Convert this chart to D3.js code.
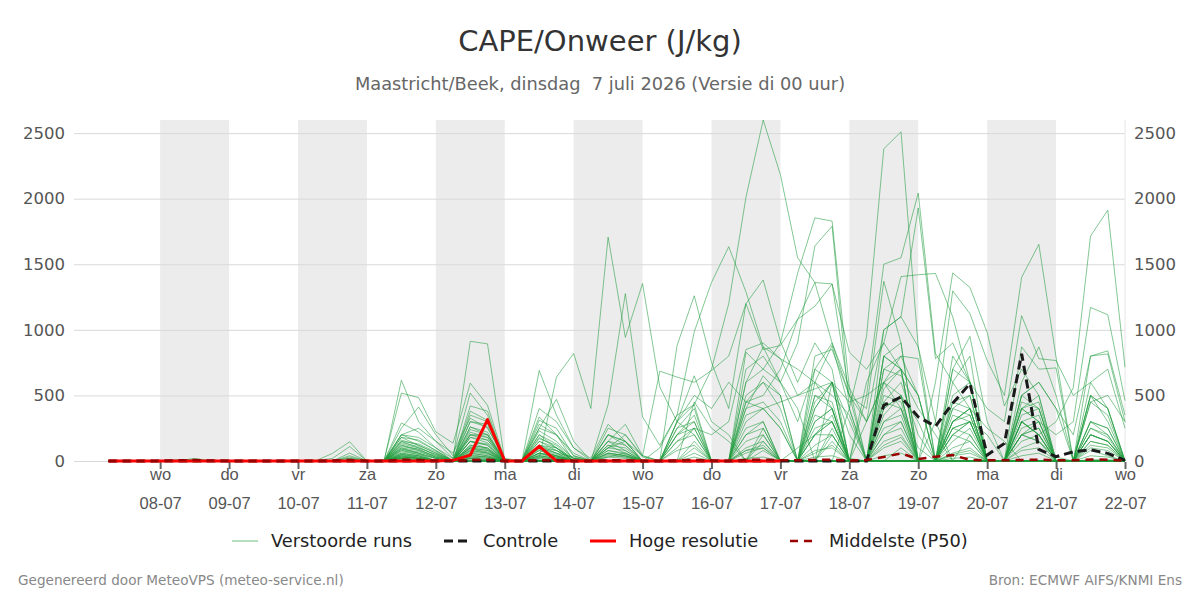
<!DOCTYPE html>
<html>
<head>
<meta charset="utf-8">
<script src="https://cdn.jsdelivr.net/npm/d3@7"></script>
<style>
  body { margin: 0; background: #fff; font-family: "DejaVu Sans", sans-serif; }
</style>
</head>
<body>
<div id="container"></div>
<script>
/* CONSTANTS AND GLOBALS */
const width = 1200, height = 600;
const plotLeft = 74, plotRight = 1125, plotTop = 120, plotBottom = 461;

/* DATA (CAPE in J/kg, 6-hourly from 07-07 06 UTC) */
const firstTime = "2026-07-07T06:00:00Z";
const stepHours = 6;
const domainStart = "2026-07-06T18:00:00Z", domainEnd = "2026-07-22T00:00:00Z";

const tickDates = ["2026-07-08","2026-07-09","2026-07-10","2026-07-11","2026-07-12","2026-07-13","2026-07-14","2026-07-15","2026-07-16","2026-07-17","2026-07-18","2026-07-19","2026-07-20","2026-07-21","2026-07-22"];
const dayNames = ["wo","do","vr","za","zo","ma","di","wo","do","vr","za","zo","ma","di","wo"];
const dateLabels = ["08-07","09-07","10-07","11-07","12-07","13-07","14-07","15-07","16-07","17-07","18-07","19-07","20-07","21-07","22-07"];
const shadedDays = ["2026-07-08","2026-07-10","2026-07-12","2026-07-14","2026-07-16","2026-07-18","2026-07-20"];
const yTicks = [0, 500, 1000, 1500, 2000, 2500];

const control = [0,0,0,0,0,0,0,0,0,0, 0,0,0,0,0,0,0,0,0,0, 0,0,0,0,0,0,0,0,0,0, 0,0,0,0,0,0,0,0,0,0, 0,0,0,0,0,425,488,336,265,440, 590,45,134,817,88,33,70,85,58,5];
const hres = [0,0,0,0,0,0,0,0,0,0, 0,0,0,0,0,0,0,0,0,0, 5,45,316,0,0,114,0,0,0,0, 0,0,0,0,0,0,0,0,0,0];
const p50 = [0,0,0,0,5,8,3,0,0,0, 0,0,0,3,8,0,0,10,8,3, 0,8,10,0,0,8,5,0,0,5, 5,0,0,5,8,3,0,8,10,5, 5,8,10,3,7,30,58,15,33,45, 8,5,5,8,10,5,5,12,10,3];

const runs = [
 [0,0,0,0,0,0,0,0,0,0,0,0,0, 0,20,0,0, 180,120,60,0, 260,200,0,0, 150,80,20,0, 120,60,0,0, 300,430,700,1200, 2010,2600,2183,1550, 1361,900,560,300, 600,400,100,0, 0,0,0,0, 200,150,30,0, 0,0,0],
 [0,0,0,0,0,0,0,0,0,0,0,0,0, 0,0,0,0, 100,60,20,0, 150,90,0,0, 20,640,820,400, 1707,943,1353,564, 300,200,0,0, 0,0,0,100, 200,300,20,0, 0,0,0,0, 60,100,0,0, 0,0,0,0, 80,40,0],
 [0,0,0,0,0,0,0,0,0,0,0,0,0, 0,0,0,0, 50,30,0,0, 100,60,0,0, 120,60,30,0, 430,1277,336,120, 350,430,0,0, 450,600,400,0, 0,0,0,0, 350,500,300,0, 0,0,0,0, 200,300,0,0, 250,180,0],
 [0,0,0,0,0,0,0,0,0,0,0,0,0, 0,40,0,0, 290,220,100,20, 913,893,0,0, 200,100,20,0, 150,280,40,0, 0,0,0,0, 300,400,250,0, 0,600,300,0, 700,800,500,0, 0,0,0,0, 500,400,0,0, 0,0,0],
 [0,0,0,0,0,20,0,0,0,0,0,0,0, 58,147,0,0, 615,300,150,60, 326,250,20,0, 400,300,100,20, 280,150,0,0, 0,0,0,0, 600,870,600,300, 700,900,500,0, 1000,1100,870,0, 0,0,0,0, 0,0,0,0, 500,400,0],
 [0,0,0,0,10,12,0,0,0,0,0,0,0, 20,110,0,10, 518,483,222,136, 594,425,10,0, 336,200,60,0, 120,100,0,0, 0,0,0,0, 400,450,300,0, 600,880,400,0, 800,900,0,0, 700,600,0,0, 0,0,0,0, 300,250,0],
 [0,0,0,0,0,0,0,0,0,0,0,0,0, 0,60,0,0, 250,412,200,40, 518,349,0,0, 690,350,100,0, 200,150,40,0, 880,1260,753,400, 1200,1380,913,600, 900,700,0,0, 0,0,0,0, 300,400,0,0, 0,0,0,0, 200,150,0],
 [0,0,0,0,0,0,0,0,0,0,0,0,0, 0,0,0,0, 150,100,50,0, 220,180,0,0, 250,470,150,0, 100,200,40,685, 640,600,690,800, 1200,850,880,1080, 1180,1350,830,700, 900,700,0,0, 0,0,0,0, 400,450,0,0, 0,0,0],
 [0,0,0,0,0,0,0,0,0,0,0,0,0, 0,0,0,0, 120,80,40,0, 180,160,0,0, 100,60,0,0, 60,40,0,100, 350,986,1361,1634, 1290,870,780,500, 600,400,0,0, 0,0,0,0, 200,150,0,0, 0,0,0,0, 0,0,0],
 [0,0,0,0,0,0,0,0,0,0,0,0,0, 0,0,0,0, 90,60,20,0, 150,120,0,0, 80,40,0,0, 40,30,0,0, 0,0,0,0, 600,700,900,1432, 1854,1829,560,0, 0,0,0,0, 250,300,0,0, 0,0,0,0, 0,0,0],
 [0,0,0,0,0,0,0,0,0,0,0,0,0, 0,0,0,0, 80,50,0,0, 120,100,0,0, 60,30,0,0, 30,20,0,0, 0,0,0,0, 830,700,600,900, 1640,1790,400,0, 800,700,0,0, 0,0,0,0, 300,200,0,0, 0,0,0],
 [0,0,0,0,0,0,0,0,0,0,0,0,0, 0,0,0,0, 60,40,0,0, 100,80,0,0, 40,20,0,0, 0,0,0,0, 300,500,400,600, 450,500,700,1080, 1361,1350,500,400, 1370,900,0,0, 0,0,0,0, 0,0,0,0, 300,200,0],
 [0,0,0,0,0,0,0,0,0,0,0,0,0, 0,0,0,0, 40,20,0,0, 80,60,0,0, 30,10,0,0, 0,0,0,0, 0,0,0,0, 200,300,0,0, 0,0,400,950, 2380,2510,870,300, 0,0,0,0, 0,0,0,0, 0,0,0],
 [0,0,0,0,0,0,0,0,0,0,0,0,0, 0,0,0,0, 30,20,0,0, 60,40,0,0, 0,0,0,0, 0,0,0,0, 0,0,0,0, 0,250,0,0, 400,600,0,500, 1500,1550,2043,820, 600,400,0,0, 300,200,0,0, 0,0,0],
 [0,0,0,0,0,0,0,0,0,0,0,0,0, 0,0,0,0, 20,10,0,0, 40,30,0,0, 0,0,0,0, 0,0,0,0, 0,0,0,0, 100,150,0,0, 300,400,0,300, 1000,1100,1930,780, 900,600,0,0, 0,0,0,0, 200,150,0],
 [0,0,0,0,0,0,0,0,0,0,0,0,0, 0,0,0,0, 10,0,0,0, 30,20,0,0, 0,0,0,0, 0,0,0,0, 0,0,0,0, 0,200,0,0, 400,600,0,600, 900,1406,1420,1430, 1100,600,0,0, 400,300,0,0, 0,0,0],
 [0,0,0,0,0,0,0,0,0,0,0,0,0, 0,0,0,0, 0,0,0,0, 20,10,0,0, 0,0,0,0, 0,0,0,0, 0,0,0,0, 0,150,0,0, 200,350,0,0, 600,700,0,600, 1434,1323,980,420, 700,500,0,0, 0,0,0],
 [0,0,0,0,0,0,0,0,0,0,0,0,0, 0,0,0,0, 0,0,0,0, 0,0,0,0, 0,0,0,0, 0,0,0,0, 0,0,0,0, 60,100,0,0, 0,250,0,0, 400,500,0,300, 1297,1123,766,500, 1400,1652,790,0, 500,300,0],
 [0,0,0,0,0,0,0,0,0,0,0,0,0, 0,0,0,0, 0,0,0,0, 0,0,0,0, 0,0,0,0, 0,0,0,0, 0,30,0,0, 0,80,0,0, 0,200,0,0, 300,400,0,0, 500,600,400,300, 1108,780,766,500, 600,400,0],
 [0,0,0,0,0,0,0,0,0,0,0,0,0, 0,0,0,0, 0,0,0,0, 0,0,0,0, 0,0,0,0, 0,0,0,0, 0,0,0,0, 0,0,0,0, 0,150,0,0, 200,300,0,0, 300,400,0,0, 300,200,300,560, 1715,1912,716],
 [0,0,0,0,0,0,0,0,0,0,0,0,0, 0,0,0,0, 0,0,0,0, 0,0,0,0, 0,0,0,0, 0,0,0,0, 0,0,0,0, 0,0,0,0, 60,120,0,0, 150,200,0,0, 200,300,0,0, 400,300,200,300, 1171,1115,460],
 [0,0,0,0,0,0,0,0,0,0,0,0,0, 0,0,0,0, 0,0,0,0, 0,0,0,0, 0,0,0,0, 0,0,0,0, 0,0,0,0, 0,0,0,0, 0,0,0,0, 0,100,0,0, 0,200,0,0, 500,600,400,200, 800,817,300],
 [0,0,0,0,0,0,0,0,0,0,0,0,0, 0,30,0,0, 200,150,80,0, 420,380,0,0, 310,250,40,0, 200,120,0,0, 0,450,250,150, 0,0,0,0, 450,600,200,0, 0,0,0,0, 300,400,0,0, 0,0,0,0, 200,150,0],
 [0,0,0,0,0,0,0,0,0,0,0,0,0, 0,0,0,0, 160,120,60,0, 380,310,0,0, 280,200,0,0, 150,80,0,0, 0,0,0,0, 400,650,500,0, 0,0,0,0, 400,500,0,0, 0,0,0,0, 200,250,0,0, 0,0,0],
 [0,0,0,0,0,0,0,0,0,0,0,0,0, 0,0,0,0, 130,100,50,0, 300,280,10,0, 230,150,20,0, 0,0,0,0, 200,350,0,0, 0,0,0,0, 800,850,500,300, 600,500,0,0, 450,500,0,0, 0,0,0,0, 300,250,0],
 [0,0,0,0,0,0,0,0,0,0,0,0,0, 0,20,0,0, 110,90,30,0, 260,220,0,0, 170,120,0,0, 60,40,0,0, 0,0,0,0, 350,400,450,500, 550,600,0,0, 700,650,400,200, 0,0,0,0, 450,400,0,0, 0,0,0],
 [0,0,0,0,0,0,0,0,0,0,0,0,0, 0,0,0,0, 70,50,20,0, 200,160,0,0, 150,100,0,0, 0,0,0,0, 0,0,0,0, 250,300,0,0, 0,0,0,0, 550,700,500,0, 600,800,0,0, 0,0,0,0, 450,350,0],
 [0,0,0,0,0,0,0,0,0,0,0,0,0, 0,0,0,0, 50,40,0,0, 150,120,0,0, 100,60,0,0, 0,0,0,0, 150,200,0,0, 0,0,0,0, 300,400,0,0, 450,600,200,0, 0,0,0,0, 300,350,0,0, 0,0,0],
 [0,0,0,0,0,0,0,0,0,0,0,0,0, 0,0,0,0, 40,30,0,0, 120,100,0,0, 80,40,0,0, 100,150,0,0, 0,0,0,0, 150,200,0,0, 0,0,0,0, 0,0,0,0, 400,500,0,0, 350,400,0,0, 200,150,0],
 [0,0,0,0,0,0,0,0,0,0,0,0,0, 0,0,0,0, 30,20,0,0, 100,80,0,0, 60,30,0,0, 0,0,0,0, 100,250,0,0, 0,0,0,0, 200,300,0,0, 300,350,0,0, 0,0,0,0, 250,300,0,0, 150,120,0],
 [0,0,0,0,0,0,0,0,0,0,0,0,0, 0,0,0,0, 20,10,0,0, 80,60,0,0, 40,20,0,0, 0,0,0,0, 0,0,0,0, 80,120,0,0, 0,0,0,0, 250,300,0,0, 200,300,0,0, 0,0,0,0, 120,100,0],
 [0,0,0,0,0,0,0,0,0,0,0,0,0, 0,0,0,0, 20,0,0,0, 60,40,0,0, 30,10,0,0, 0,0,0,0, 0,0,0,0, 0,0,0,0, 120,200,0,0, 0,0,0,0, 150,250,0,0, 150,200,0,0, 0,0,0],
 [0,0,0,0,0,0,0,0,0,0,0,0,0, 0,0,0,0, 90,70,30,0, 240,200,0,0, 200,130,20,0, 80,50,0,0, 250,300,0,0, 700,800,600,400, 0,0,0,0, 800,700,500,0, 700,950,300,0, 870,700,710,0, 500,400,0],
 [0,0,0,0,0,0,0,0,0,0,0,0,0, 0,0,0,0, 140,110,40,0, 200,180,0,0, 120,80,0,0, 50,30,0,0, 150,250,200,300, 850,900,780,700, 600,500,350,0, 0,0,0,0, 400,350,0,0, 0,0,0,0, 250,200,0],
 [0,0,0,0,0,0,0,0,0,0,0,0,0, 0,0,0,0, 60,40,0,0, 180,140,0,0, 90,50,0,0, 150,120,0,0, 300,650,300,200, 0,0,0,0, 500,400,0,0, 0,0,0,0, 300,350,0,0, 600,870,500,0, 0,0,0],
 [0,0,0,0,0,0,0,0,0,0,0,0,0, 0,0,0,0, 30,20,0,0, 90,70,0,0, 50,30,0,0, 200,150,0,0, 250,400,0,0, 450,400,250,0, 0,0,0,0, 500,450,0,0, 800,600,0,0, 0,0,0,0, 600,700,250],
 [0,0,0,0,0,0,0,0,0,0,0,0,0, 0,0,0,0, 200,180,100,0, 150,130,0,0, 60,40,0,0, 0,0,0,0, 0,150,0,0, 0,0,0,0, 700,600,450,500, 600,800,780,0, 0,0,0,0, 300,200,0,0, 0,0,0],
 [0,0,0,0,0,0,0,0,0,0,0,0,0, 0,0,0,0, 100,80,20,0, 110,90,0,0, 40,20,0,0, 30,60,0,0, 200,300,0,0, 0,0,0,0, 250,300,0,0, 0,0,0,0, 250,300,0,0, 400,500,0,0, 0,0,0],
 [0,0,0,0,0,0,0,0,0,0,0,0,0, 0,0,0,0, 150,130,70,0, 70,50,0,0, 20,10,0,0, 0,0,0,0, 0,100,0,0, 200,250,0,0, 0,0,0,0, 200,250,0,0, 0,0,0,0, 200,250,0,0, 150,120,0],
 [0,0,0,0,0,0,0,0,0,0,0,0,0, 0,0,0,0, 80,60,0,0, 50,30,0,0, 10,0,0,0, 0,0,0,0, 0,60,0,0, 0,0,0,0, 200,200,0,0, 0,0,0,0, 100,150,0,0, 0,0,0,0, 100,80,0],
 [0,0,0,0,0,0,0,0,0,0,0,0,0, 0,0,0,0, 40,20,0,0, 30,20,0,0, 0,0,0,0, 0,0,0,0, 0,0,0,0, 80,100,0,0, 0,0,0,0, 100,150,0,0, 0,0,0,0, 100,150,0,0, 0,0,0],
 [0,0,0,0,0,0,0,0,0,0,0,0,0, 0,0,0,0, 20,10,0,0, 20,10,0,0, 0,0,0,0, 0,0,0,0, 0,0,0,0, 0,0,0,0, 80,100,0,0, 0,0,0,0, 50,80,0,0, 0,0,0,0, 40,30,0],
 [0,0,0,0,0,0,0,0,0,0,0,0,0, 0,0,0,0, 10,0,0,0, 10,0,0,0, 0,0,0,0, 0,0,0,0, 0,0,0,0, 20,30,0,0, 0,0,0,0, 40,60,0,0, 0,0,0,0, 40,60,0,0, 0,0,0],
 [0,0,0,0,0,0,0,0,0,0,0,0,0, 0,0,0,0, 0,0,0,0, 0,0,0,0, 0,0,0,0, 0,0,0,0, 0,0,0,0, 0,0,0,0, 30,40,0,0, 0,0,0,0, 20,30,0,0, 0,0,0,0, 10,10,0],
 [0,0,0,0,0,0,0,0,0,0,0,0,0, 0,0,0,0, 120,90,30,0, 350,300,0,0, 250,200,40,0, 250,200,30,0, 200,250,0,0, 0,0,0,0, 500,450,0,0, 0,0,0,0, 350,300,200,0, 500,600,400,0, 800,840,350],
 [0,0,0,0,0,0,0,0,0,0,0,0,0, 0,0,0,0, 200,250,150,20, 300,260,0,0, 180,100,0,0, 80,60,0,0, 0,0,0,0, 500,600,500,0, 0,0,0,0, 450,400,0,0, 450,400,250,150, 0,0,0,0, 450,500,300],
 [0,0,0,0,0,0,0,0,0,0,0,0,0, 0,0,0,0, 180,160,80,0, 200,200,0,0, 100,80,0,0, 60,40,0,0, 80,120,0,0, 0,0,0,0, 350,300,0,0, 0,0,0,0, 250,200,0,0, 200,150,0,0, 0,0,0],
 [0,0,0,0,0,0,0,0,0,0,0,0,0, 0,0,0,0, 50,30,0,0, 40,30,0,0, 60,40,0,0, 0,0,0,0, 0,0,0,0, 0,0,0,0, 0,0,0,0, 120,180,0,0, 0,0,0,0, 80,100,0,0, 0,0,0],
 [0,0,0,0,0,0,0,0,0,0,0,0,0, 0,0,0,0, 30,20,0,0, 20,0,0,0, 120,100,0,0, 100,80,0,0, 0,0,0,0, 0,0,0,0, 0,0,0,0, 0,0,0,0, 40,60,0,0, 0,0,0,0, 0,0,0],
 [0,0,0,0,0,0,0,0,0,0,0,0,0, 0,0,0,0, 0,0,0,0, 0,0,0,0, 0,0,0,0, 0,0,0,0, 0,0,0,0, 0,0,0,0, 0,0,0,0, 0,0,0,0, 0,0,0,0, 0,0,0,0, 0,0,0]
];

/* SCALES */
const t0 = new Date(firstTime);
const timeAt = i => new Date(t0.getTime() + i * stepHours * 3600e3);

const x = d3.scaleUtc()
  .domain([new Date(domainStart), new Date(domainEnd)])
  .range([plotLeft, plotRight]);

const y = d3.scaleLinear()
  .domain([0, d3.max(runs, r => d3.max(r))])
  .range([plotBottom, plotTop]);

/* HTML ELEMENTS */
const svg = d3.select("#container")
  .append("svg")
  .attr("width", width)
  .attr("height", height)
  .style("font-family", "'DejaVu Sans', sans-serif");

// titles
svg.append("text")
  .attr("x", 600).attr("y", 51)
  .attr("text-anchor", "middle")
  .attr("font-size", 29).attr("fill", "#333")
  .text("CAPE/Onweer (J/kg)");

svg.append("text")
  .attr("x", 600).attr("y", 90)
  .attr("text-anchor", "middle")
  .attr("font-size", 17.8).attr("fill", "#666")
  .style("white-space", "pre")
  .text("Maastricht/Beek, dinsdag  7 juli 2026 (Versie di 00 uur)");

// alternating day bands
const dayStart = d => new Date(d + "T00:00:00Z");
svg.append("g")
  .selectAll("rect")
  .data(shadedDays)
  .join("rect")
  .attr("x", d => x(dayStart(d)))
  .attr("y", plotTop)
  .attr("width", d => x(d3.utcDay.offset(dayStart(d), 1)) - x(dayStart(d)))
  .attr("height", plotBottom - plotTop)
  .attr("fill", "#ececec");

// gridlines
svg.append("g")
  .attr("transform", `translate(${plotLeft},0)`)
  .call(d3.axisLeft(y).tickValues(yTicks).tickSize(-(plotRight - plotLeft)).tickFormat(""))
  .call(g => g.select(".domain").remove())
  .call(g => g.selectAll("line").attr("stroke", "#d9d9d9").attr("stroke-width", 1));

// right border line
svg.append("line")
  .attr("x1", plotRight).attr("x2", plotRight)
  .attr("y1", plotTop).attr("y2", plotBottom)
  .attr("stroke", "#e6e6e6");

// y axes (left and right)
svg.append("g")
  .attr("transform", `translate(${plotLeft - 6},0)`)
  .call(d3.axisLeft(y).tickValues(yTicks).tickSize(0).tickFormat(d3.format("d")))
  .call(g => g.select(".domain").remove())
  .call(g => g.selectAll("text").attr("fill", "#555").attr("font-size", 16.5).attr("font-family", "'DejaVu Sans', sans-serif"));

svg.append("g")
  .attr("transform", `translate(${plotRight + 6},0)`)
  .call(d3.axisRight(y).tickValues(yTicks).tickSize(0).tickFormat(d3.format("d")))
  .call(g => g.select(".domain").remove())
  .call(g => g.selectAll("text").attr("fill", "#555").attr("font-size", 16.5).attr("font-family", "'DejaVu Sans', sans-serif"));

// x axis with two-line labels
const tickTimes = tickDates.map(dayStart);
const xAxis = svg.append("g")
  .attr("transform", `translate(0,${plotBottom + 1})`)
  .call(d3.axisBottom(x).tickValues(tickTimes).tickSize(7).tickFormat(""))
  .call(g => g.select(".domain").remove())
  .call(g => g.selectAll("line").attr("stroke", "#666").attr("stroke-width", 2));

xAxis.selectAll(".tick")
  .append("text")
  .attr("fill", "#555")
  .attr("font-size", 16.5)
  .attr("text-anchor", "middle")
  .each(function(d, i) {
    const t = d3.select(this);
    t.append("tspan").attr("x", 0).attr("y", 18).text(dayNames[i]);
    t.append("tspan").attr("x", 0).attr("y", 47).text(dateLabels[i]);
  });

// lines
const line = d3.line()
  .x((d, i) => x(timeAt(i)))
  .y(d => y(d));

const plot = svg.append("g");

plot.selectAll("path.run")
  .data(runs)
  .join("path")
  .attr("class", "run")
  .attr("d", line)
  .attr("fill", "none")
  .attr("stroke", "#1e9a3c")
  .attr("stroke-width", 1)
  .attr("stroke-opacity", 0.55);

plot.append("path")
  .datum(control)
  .attr("d", line)
  .attr("fill", "none")
  .attr("stroke", "#1a1a1a")
  .attr("stroke-width", 3)
  .attr("stroke-dasharray", "9,5");

plot.append("path")
  .datum(hres)
  .attr("d", line)
  .attr("fill", "none")
  .attr("stroke", "#ff0000")
  .attr("stroke-width", 3)
  .attr("stroke-linejoin", "round");

plot.append("path")
  .datum(p50)
  .attr("d", line)
  .attr("fill", "none")
  .attr("stroke", "#990000")
  .attr("stroke-width", 2.5)
  .attr("stroke-dasharray", "8,6");

// legend
const legendItems = [
  { label: "Verstoorde runs", x: 232, color: "#6cbd7b", w: 1, dash: null },
  { label: "Controle", x: 444, color: "#1a1a1a", w: 3, dash: "9,5" },
  { label: "Hoge resolutie", x: 590, color: "#ff0000", w: 3, dash: null },
  { label: "Middelste (P50)", x: 790, color: "#990000", w: 2.5, dash: "8,6" }
];
const legend = svg.append("g").attr("transform", "translate(0,541)");
legend.selectAll("line")
  .data(legendItems)
  .join("line")
  .attr("x1", d => d.x).attr("x2", d => d.x + 26)
  .attr("stroke", d => d.color)
  .attr("stroke-width", d => d.w)
  .attr("stroke-dasharray", d => d.dash);
legend.selectAll("text")
  .data(legendItems)
  .join("text")
  .attr("x", d => d.x + 39)
  .attr("y", 6)
  .attr("font-size", 17.8)
  .attr("fill", "#222")
  .text(d => d.label);

// footer
svg.append("text")
  .attr("x", 18).attr("y", 585)
  .attr("font-size", 13.6).attr("fill", "#888")
  .text("Gegenereerd door MeteoVPS (meteo-service.nl)");
svg.append("text")
  .attr("x", 1182).attr("y", 585)
  .attr("text-anchor", "end")
  .attr("font-size", 13.6).attr("fill", "#888")
  .text("Bron: ECMWF AIFS/KNMI Ens");
</script>
</body>
</html>
